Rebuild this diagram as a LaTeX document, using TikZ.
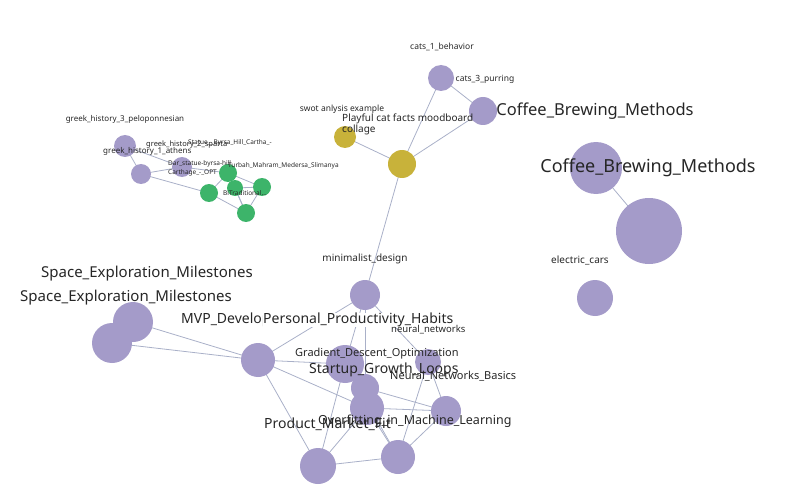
\documentclass[tikz,border=0pt]{standalone}
\usepackage{fontspec}
\setmainfont{Noto Sans}
\begin{document}
\begin{tikzpicture}[x=1pt,y=-1pt,
  v/.style={circle,fill=pur,inner sep=0pt,minimum size=#1},
  yv/.style={circle,fill=yel,inner sep=0pt,minimum size=#1},
  gv/.style={circle,fill=grn,inner sep=0pt,minimum size=#1},
  e/.style={draw=edg,line width=0.8pt},
  lab/.style={text=black!85,inner sep=0pt,font=\fontsize{#1}{#1}\selectfont}]
\definecolor{pur}{HTML}{A49BC9}\definecolor{yel}{HTML}{C8B23A}
\definecolor{grn}{HTML}{3DB46A}\definecolor{edg}{HTML}{A9B0C8}
\useasboundingbox (0,0) rectangle (806,500);
\coordinate (A) at (441,78);\coordinate (B) at (483,111);
\coordinate (Y1) at (345,137);\coordinate (Y2) at (402,164);
\coordinate (C1) at (596,168);\coordinate (C2) at (649,231);\coordinate (EC) at (595,298);
\coordinate (g1) at (125,146);\coordinate (g2) at (141,174);\coordinate (g3) at (182,167);
\coordinate (G1) at (228,173);\coordinate (G2) at (262,187);\coordinate (G3) at (235,188);
\coordinate (G4) at (209,193);\coordinate (G5) at (246,213);
\coordinate (M) at (365,295);\coordinate (S1) at (133,322);\coordinate (S2) at (112,343);
\coordinate (MVP) at (258,360);\coordinate (GD) at (345,364);\coordinate (N) at (428,362);
\coordinate (SG) at (365,388);\coordinate (OML) at (367,408);\coordinate (NNB) at (446,411);
\coordinate (PMF) at (318,466);\coordinate (B2) at (398,457);
\foreach \a/\b in {A/B,A/Y2,B/Y2,Y1/Y2,Y2/M,C1/C2,
 g1/g2,g1/g3,g2/g3,g2/G4,g3/G1,G1/G2,G1/G3,G1/G4,G2/G3,G2/G5,G4/G5,G3/G5,G1/G5,
 M/MVP,M/GD,M/SG,M/N,S1/MVP,S2/MVP,MVP/GD,MVP/PMF,MVP/OML,GD/PMF,GD/B2,N/NNB,N/B2,
 SG/NNB,OML/NNB,OML/PMF,OML/B2,PMF/B2,NNB/B2,SG/OML}
 \draw[e] (\a) -- (\b);
\node[v=26] (nA) at (A) {};\node[v=28] (nB) at (B) {};
\node[yv=22] (nY1) at (Y1) {};\node[yv=28] (nY2) at (Y2) {};
\node[v=52] (nC1) at (C1) {};\node[v=66] (nC2) at (C2) {};\node[v=36] (nEC) at (EC) {};
\node[v=22] (ng1) at (g1) {};\node[v=20] (ng2) at (g2) {};\node[v=20] (ng3) at (g3) {};
\node[gv=18] (nG1) at (G1) {};\node[gv=18] (nG2) at (G2) {};\node[gv=16] (nG3) at (G3) {};
\node[gv=18] (nG4) at (G4) {};\node[gv=18] (nG5) at (G5) {};
\node[v=30] (nM) at (M) {};\node[v=40] (nS1) at (S1) {};\node[v=40] (nS2) at (S2) {};
\node[v=34] (nMVP) at (MVP) {};\node[v=38] (nGD) at (GD) {};\node[v=26] (nN) at (N) {};
\node[v=28] (nSG) at (SG) {};\node[v=34] (nOML) at (OML) {};\node[v=30] (nNNB) at (NNB) {};
\node[v=36] (nPMF) at (PMF) {};\node[v=34] (nB2) at (B2) {};
% labels
\node[lab=8.5] (l1) at (442,47) {cats\_1\_behavior};
\node[lab=8.5] (l2) at (485,79) {cats\_3\_purring};
\node[lab=16.5] (l3) at (595,111) {Coffee\_Brewing\_Methods};
\node[lab=8.5] (l4) at (342,109) {swot anlysis example};
\node[lab=10,anchor=north west,align=left] (l5) at (342,114) {Playful cat facts moodboard\\[1pt]collage};
\node[lab=18] (l6) at (648,168) {Coffee\_Brewing\_Methods};
\node[lab=10] (l7) at (580,260) {electric\_cars};
\node[lab=8] (l8) at (125,119) {greek\_history\_3\_peloponnesian};
\node[lab=7.5,anchor=west] (l9) at (146,145) {greek\_history\_2\_sparta};
\node[lab=6.5,anchor=west] (l9b) at (188,143) {Statue\_\_Byrsa\_Hill\_Cartha\_-};
\node[lab=8,anchor=west] (l10) at (103,151) {greek\_history\_1\_athens};
\node[lab=6.5,anchor=west] (l11) at (168,164) {Dar\_statue-byrsa-hill};
\node[lab=6.5,anchor=west] (l12) at (228,166) {Turbah\_Mahram\_Medersa\_Slimanya};
\node[lab=6.5,anchor=west] (l13) at (168,173) {Carthage\_-\_OPT};
\node[lab=6.5,anchor=west] (l14) at (223,193) {BiTraditional...};
\node[lab=10] (l15) at (365,259) {minimalist\_design};
\node[lab=15] (l16) at (147,274) {Space\_Exploration\_Milestones};
\node[lab=15] (l17) at (126,298) {Space\_Exploration\_Milestones};
\node[lab=14,anchor=west] (l18) at (181,320) {MVP\_Development};
\node[lab=14,anchor=west,fill=white] (l19) at (263,320) {Personal\_Productivity\_Habits};
\node[lab=9.5,anchor=west] (l20) at (391,330) {neural\_networks};
\node[lab=11,anchor=west] (l21) at (295,354) {Gradient\_Descent\_Optimization};
\node[lab=14,anchor=west] (l22) at (309,370) {Startup\_Growth\_Loops};
\node[lab=11,anchor=west] (l23) at (390,376) {Neural\_Networks\_Basics};
\node[lab=12.5,anchor=west] (l24) at (318,421) {Overfitting\_in\_Machine\_Learning};
\node[lab=14,anchor=west] (l25) at (264,424) {Product\_Market\_Fit};
\end{tikzpicture}
\end{document}
